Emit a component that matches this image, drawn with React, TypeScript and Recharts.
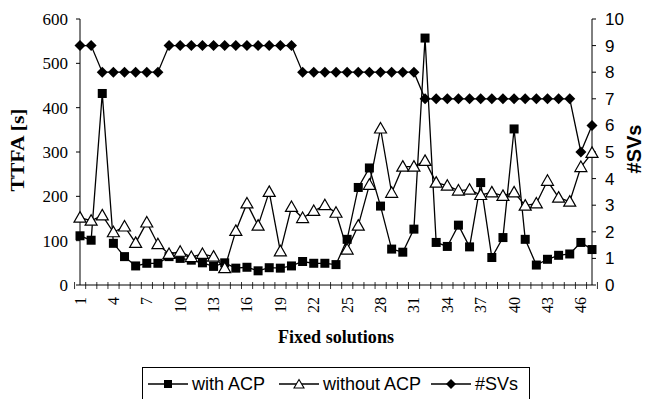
import React from "react";
import { ComposedChart, Line, XAxis, YAxis, Legend } from "recharts";

const categories = ["1","2","3","4","5","6","7","8","9","10","11","12","13","14","15","16","17","18","19","20","21","22","23","24","25","26","27","28","29","30","31","32","33","34","35","36","37","38","39","40","41","42","43","44","45","46","47"];
const withACP = [111,101,432,94,64,43,49,49,64,60,56,50,42,50,38,40,32,39,38,43,53,49,49,46,103,220,264,178,81,74,126,557,96,87,135,86,231,62,107,352,103,45,58,67,70,96,80];
const withoutACP = [152,145,157,119,132,95,141,92,70,75,63,70,64,38,122,184,134,210,76,176,151,167,180,163,80,134,226,353,208,267,267,280,231,224,213,215,203,209,201,209,179,184,235,197,188,266,298];
const numSVs = [9,9,8,8,8,8,8,8,9,9,9,9,9,9,9,9,9,9,9,9,8,8,8,8,8,8,8,8,8,8,8,7,7,7,7,7,7,7,7,7,7,7,7,7,7,5,6];
const leftTicks = [0,100,200,300,400,500,600];
const rightTicks = [0,1,2,3,4,5,6,7,8,9,10];

const data = categories.map((c, i) => ({ cat: c, withACP: withACP[i], withoutACP: withoutACP[i], svs: numSVs[i] }));

const W = 651;
const H = 399;
const LEFT_W = 80;
const RIGHT_W = 59;
const PLOT_W = W - LEFT_W - RIGHT_W;
const SERIF = "'Liberation Serif', 'Times New Roman', serif";
const SANS = "'Liberation Sans', Arial, sans-serif";

const SquareDot = (p: any) => {
  if (p.cx == null || p.cy == null) return <g key={p.index} />;
  return <rect key={p.index} x={p.cx - 4.5} y={p.cy - 4.5} width={9} height={9} fill="#000" />;
};
const TriDot = (p: any) => {
  if (p.cx == null || p.cy == null) return <g key={p.index} />;
  const { cx, cy } = p;
  return <polygon key={p.index} points={`${cx},${cy - 6} ${cx + 6},${cy + 4.5} ${cx - 6},${cy + 4.5}`} fill="#fff" stroke="#000" strokeWidth={1.2} />;
};
const DiamondDot = (p: any) => {
  if (p.cx == null || p.cy == null) return <g key={p.index} />;
  const { cx, cy } = p;
  return <polygon key={p.index} points={`${cx},${cy - 5.5} ${cx + 5.5},${cy} ${cx},${cy + 5.5} ${cx - 5.5},${cy}`} fill="#000" />;
};

const XTick = (p: any) => {
  const { x, y, payload, index } = p;
  const band = PLOT_W / categories.length;
  const lines = [
    <line key="t" x1={x - band / 2} x2={x - band / 2} y1={y - 3} y2={y + 4} stroke="#000" strokeWidth={0.8} />,
  ];
  if (index === categories.length - 1) {
    lines.push(<line key="t2" x1={x + band / 2} x2={x + band / 2} y1={y - 3} y2={y + 4} stroke="#000" strokeWidth={0.8} />);
  }
  return (
    <g>
      {lines}
      {index % 3 === 0 ? (
        <text x={x} y={y + 12} transform={`rotate(-90 ${x} ${y + 12})`} textAnchor="end" dominantBaseline="central" fontFamily={SERIF} fontSize={16} fill="#000">
          {payload.value}
        </text>
      ) : null}
    </g>
  );
};

const LegendIcon = ({ kind }: { kind: string }) => (
  <svg width={40} height={14} style={{ display: "inline-block", verticalAlign: "middle" }}>
    <line x1={0} x2={40} y1={7} y2={7} stroke="#000" strokeWidth={1.5} />
    {kind === "sq" && <rect x={16} y={3} width={8} height={8} fill="#000" />}
    {kind === "tri" && <polygon points="20,2.5 25,11 15,11" fill="#fff" stroke="#000" strokeWidth={1.1} />}
    {kind === "dia" && <polygon points="20,2 25,7 20,12 15,7" fill="#000" />}
  </svg>
);

const LegendBox = () => (
  <div style={{ width: W, height: 30, position: "relative" }}>
    <div
      style={{
        position: "absolute",
        left: 142,
        top: -2,
        width: 388,
        height: 36,
        border: "1px solid #000",
        boxSizing: "border-box",
        display: "flex",
        alignItems: "center",
        paddingLeft: 5,
        paddingBottom: 2,
        fontFamily: SANS,
        fontSize: 18,
        color: "#000",
        whiteSpace: "nowrap",
      }}
    >
      <LegendIcon kind="sq" />
      <span style={{ marginLeft: 4, marginRight: 14 }}>with ACP</span>
      <LegendIcon kind="tri" />
      <span style={{ marginLeft: 4, marginRight: 10 }}>without ACP</span>
      <LegendIcon kind="dia" />
      <span style={{ marginLeft: 4 }}>#SVs</span>
    </div>
  </div>
);

export default function App() {
  return (
    <div style={{ position: "absolute", left: 0, top: 0, width: W, height: H, background: "#fff", overflow: "hidden" }}>
      <ComposedChart width={W} height={H} data={data} margin={{ top: 19, right: 0, left: 0, bottom: 0 }}>
        <XAxis
          dataKey="cat"
          interval={0}
          tickLine={false}
          tickSize={0}
          tickMargin={0}
          height={84}
          axisLine={{ stroke: "#000", strokeWidth: 1 }}
          tick={<XTick />}
          label={(props: any) => {
            const vb = props.viewBox;
            return (
              <text x={vb.x + vb.width / 2} y={vb.y + 58} textAnchor="middle" fontFamily={SERIF} fontWeight="bold" fontSize={18} textLength={116} lengthAdjust="spacingAndGlyphs" fill="#000">
                Fixed solutions
              </text>
            );
          }}
        />
        <YAxis
          yAxisId="left"
          orientation="left"
          width={LEFT_W}
          domain={[0, 600]}
          ticks={leftTicks}
          interval={0}
          tickSize={4}
          tickMargin={8}
          axisLine={{ stroke: "#000" }}
          tickLine={{ stroke: "#000" }}
          tick={{ fontFamily: SERIF, fontSize: 17, fill: "#000" }}
          label={(props: any) => {
            const vb = props.viewBox;
            const cx = vb.x + 18;
            const cy = vb.y + vb.height / 2 - 2;
            return (
              <g transform={`translate(${cx} ${cy}) rotate(-90) scale(1.2 1)`}>
                <text x={0} y={0} textAnchor="middle" dominantBaseline="central" fontFamily={SERIF} fontWeight="bold" fontSize={18} fill="#000">
                  TTFA [s]
                </text>
              </g>
            );
          }}
        />
        <YAxis
          yAxisId="right"
          orientation="right"
          width={RIGHT_W}
          domain={[0, 10]}
          ticks={rightTicks}
          interval={0}
          tickSize={4}
          tickMargin={9}
          axisLine={{ stroke: "#000" }}
          tickLine={{ stroke: "#000" }}
          tick={{ fontFamily: SANS, fontSize: 17, fill: "#000" }}
          label={(props: any) => {
            const vb = props.viewBox;
            const cx = vb.x + 42;
            const cy = vb.y + vb.height / 2 - 3;
            return (
              <text x={cx} y={cy} transform={`rotate(-90 ${cx} ${cy})`} textAnchor="middle" dominantBaseline="central" fontFamily={SANS} fontWeight="bold" fontSize={20} fill="#000">
                #SVs
              </text>
            );
          }}
        />
        <Legend verticalAlign="bottom" content={<LegendBox />} wrapperStyle={{ left: 0, width: W }} />
        <Line yAxisId="left" type="linear" dataKey="withACP" stroke="#000" strokeWidth={1.3} dot={SquareDot} activeDot={false} isAnimationActive={false} />
        <Line yAxisId="left" type="linear" dataKey="withoutACP" stroke="#000" strokeWidth={1.3} dot={TriDot} activeDot={false} isAnimationActive={false} />
        <Line yAxisId="right" type="linear" dataKey="svs" stroke="#000" strokeWidth={1.3} dot={DiamondDot} activeDot={false} isAnimationActive={false} />
      </ComposedChart>
    </div>
  );
}
